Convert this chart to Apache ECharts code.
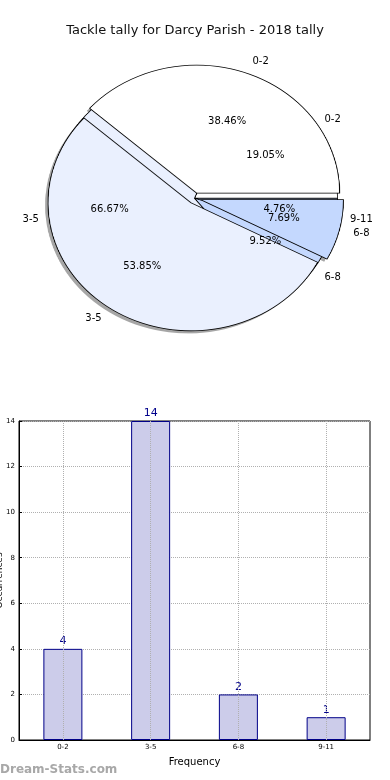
<!DOCTYPE html>
<html><head><meta charset="utf-8">
<script src="https://cdn.jsdelivr.net/npm/echarts@6/dist/echarts.min.js"></script>
<style>
html,body{margin:0;padding:0;background:#fff}
#wrap{position:relative;width:390px;height:780px;overflow:hidden}
#p{position:absolute;left:0;top:0;width:390px;height:400px}
#c{position:absolute;left:0;top:0;width:390px;height:780px}
</style>
</head><body><div id="wrap"><div id="p"></div><div id="c"></div></div>
<script>
// ---- data ----
const titleText = 'Tackle tally for Darcy Parish - 2018 tally';
const categories = ['0-2', '3-5', '6-8', '9-11'];
const frequency = [4, 14, 2, 1];
const earlierCategories = ['0-2', '3-5', '6-8'];
const earlierTally = [5, 7, 1];
const sliceColors = ['#ffffff', '#eaf0fe', '#c4d8fe', '#c4d8fe'];
const yMin = 0, yMax = 14, yStep = 2;

// ---- layout/style ----
const FONT = 'DejaVu Sans';
const CX = 194.5, CY = 198.3;
const RY = 128, RX = 143;          // the reference pie is drawn as an ellipse
const SX = RX / RY;                 // horizontal stretch applied to the pie canvas
const OFFSET = 5.5;                 // explode offset (px, before stretch) of the earlier pie
const EXPL = OFFSET / RY;

// pie canvas is stretched horizontally about the pie centre
const pDiv = document.getElementById('p');
pDiv.style.transformOrigin = CX + 'px ' + CY + 'px';
pDiv.style.transform = 'scaleX(' + SX + ')';

function pieData(names, vals, selected, colorFn) {
  return names.map((n, i) => ({
    name: n, value: vals[i], selected: selected,
    itemStyle: { color: colorFn(i) }
  }));
}
const basePie = {
  type: 'pie', startAngle: 0, clockwise: false, radius: [0, RY],
  avoidLabelOverlap: false, silent: true, animation: false,
  emphasis: { disabled: true }, selectedMode: 'multiple',
  label: { show: false }, labelLine: { show: false }
};
const shadowColor = () => 'rgba(77,77,77,0.5)';
const sliceColor = i => sliceColors[i];
const shCenter = [CX - 2.9 / SX, CY + 2.6];
const wedgeBorder = { borderColor: '#000', borderWidth: 0.8 };

const pieChart = echarts.init(pDiv, null, { renderer: 'canvas', devicePixelRatio: 2 });
pieChart.setOption({
  animation: false,
  series: [
    Object.assign({}, basePie, { center: shCenter, selectedOffset: 0, itemStyle: { borderWidth: 0 },
      data: pieData(categories, frequency, false, shadowColor) }),
    Object.assign({}, basePie, { center: shCenter, selectedOffset: OFFSET, itemStyle: { borderWidth: 0 },
      data: pieData(earlierCategories, earlierTally, true, shadowColor) }),
    Object.assign({}, basePie, { center: [CX, CY], selectedOffset: 0, itemStyle: wedgeBorder,
      data: pieData(categories, frequency, false, sliceColor) }),
    Object.assign({}, basePie, { center: [CX, CY], selectedOffset: OFFSET, itemStyle: wedgeBorder,
      data: pieData(earlierCategories, earlierTally, true, sliceColor) })
  ]
});

// label placement following the elliptical pie
function placer(vals, explode, dist, centred) {
  const total = vals.reduce((a, b) => a + b, 0);
  return function (params) {
    const i = params.dataIndex;
    let cum = 0;
    for (let j = 0; j < i; j++) cum += vals[j];
    const mid = (cum + vals[i] / 2) / total * Math.PI * 2;
    const c = Math.cos(mid), s = Math.sin(mid);
    const x = CX + (dist + explode) * RX * c;
    const y = CY - (dist + explode) * RY * s;
    return { x: x, y: y, align: centred ? 'center' : (c >= 0 ? 'left' : 'right'), verticalAlign: 'middle' };
  };
}
const labelStyle = { show: true, position: 'outside', color: '#000', fontSize: 10, fontFamily: FONT };
function labelSeries(names, vals, explode, dist, centred, fmt) {
  return Object.assign({}, basePie, {
    center: [CX, CY], radius: [0, RY * 0.5],
    itemStyle: { color: 'rgba(0,0,0,0)', borderWidth: 0 },
    label: Object.assign({}, labelStyle, { formatter: fmt }),
    labelLine: { show: false, length: 5, length2: 0 },
    labelLayout: placer(vals, explode, dist, centred),
    data: names.map((n, i) => ({ name: n, value: vals[i] }))
  });
}

const chart = echarts.init(document.getElementById('c'), null, { renderer: 'canvas' });
chart.setOption({
  backgroundColor: 'transparent',
  animation: false,
  textStyle: { fontFamily: FONT },
  title: { text: titleText, left: 'center', top: 19,
    textStyle: { fontSize: 13, fontWeight: 'normal', color: '#111', fontFamily: FONT } },
  grid: { left: 19, right: 20, top: 421, bottom: 40, show: true, borderColor: '#000', borderWidth: 1,
    outerBoundsMode: 'none', containLabel: false },
  xAxis: {
    type: 'category', data: categories,
    axisLine: { lineStyle: { color: '#000', width: 1 } },
    axisTick: { alignWithLabel: true, inside: true, length: 3, lineStyle: { color: '#000' } },
    axisLabel: { fontSize: 7, color: '#000', margin: 4, fontFamily: FONT },
    name: 'Frequency', nameLocation: 'middle', nameGap: 17, nameMoveOverlap: false,
    nameTextStyle: { fontSize: 10, color: '#000', fontFamily: FONT }
  },
  yAxis: {
    type: 'value', min: yMin, max: yMax, interval: yStep,
    axisLine: { show: true, lineStyle: { color: '#000', width: 1 } },
    axisTick: { show: true, inside: true, length: 3, lineStyle: { color: '#000' } },
    axisLabel: { fontSize: 7, color: '#000', margin: 4, fontFamily: FONT },
    splitLine: { show: true, lineStyle: { color: '#b0b0b0', type: 'dotted', width: 1 } },
    name: 'Occurrences', nameLocation: 'middle', nameGap: 15, nameMoveOverlap: false,
    nameTextStyle: { fontSize: 9, color: '#000', fontFamily: FONT }
  },
  graphic: [{
    type: 'text', left: 0, top: 764,
    style: { text: 'Dream-Stats.com', fill: '#a8a8a8', font: 'bold 12px "DejaVu Sans"' }
  }],
  series: [
    labelSeries(categories, frequency, 0, 0.6, true, '{d}%'),
    labelSeries(earlierCategories, earlierTally, EXPL, 0.6, true, '{d}%'),
    labelSeries(categories, frequency, 0, 1.1, false, '{b}'),
    labelSeries(earlierCategories, earlierTally, EXPL, 1.1, false, '{b}'),
    {
      type: 'bar', data: frequency, barWidth: 39, animation: false,
      itemStyle: { color: '#ccccea', borderColor: '#000088', borderWidth: 1 },
      label: { show: true, position: 'top', distance: 2, color: '#00008b', fontSize: 11, fontFamily: FONT },
      markLine: {
        silent: true, symbol: 'none', animation: false,
        label: { show: false },
        lineStyle: { color: '#b0b0b0', type: 'dotted', width: 1 },
        data: categories.map(c => ({ xAxis: c }))
      }
    }
  ]
});
</script>
</body></html>
